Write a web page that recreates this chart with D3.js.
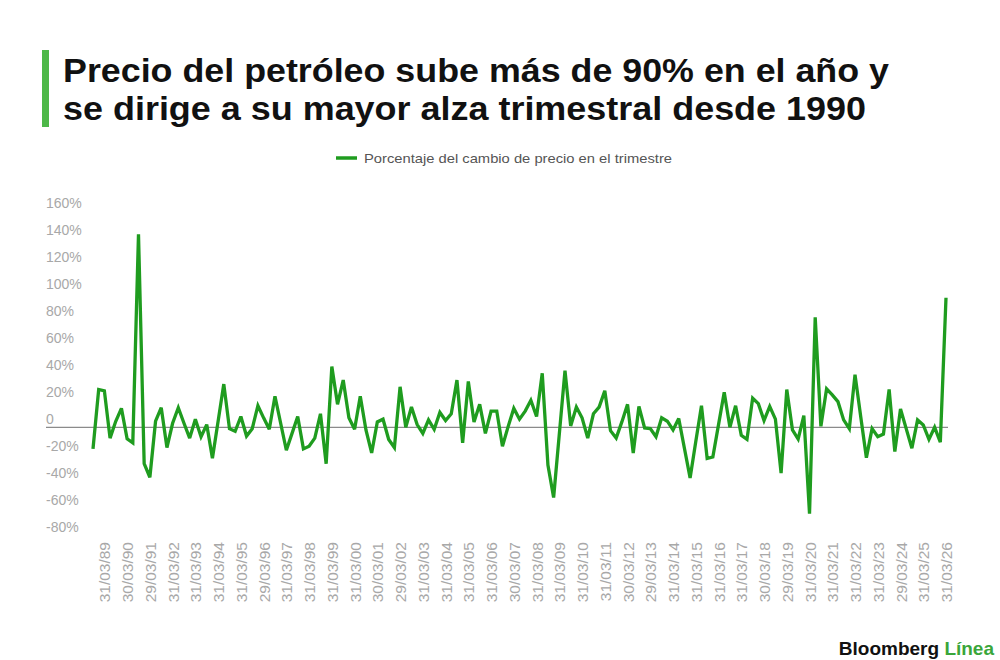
<!DOCTYPE html>
<html>
<head>
<meta charset="utf-8">
<script src="https://cdn.jsdelivr.net/npm/d3@7"></script>
<style>
  body { margin: 0; background: #fff; }
  svg { display: block; }
</style>
</head>
<body>
<script>
// Cambio trimestral del precio del petróleo, % (T3 1988 -> T1 2026)
var values = [
  -16, 28, 27, -8, 4.5, 14, -8.5, -11.5, 143, -27,
  -37, 4.5, 14.5, -15, 3, 14.5, 3, -8, 6, -7,
  2, -23, 4.5, 32, -1, -3, 8, -6.5, -1, 16,
  7, -1.5, 23, 3, -17, -4.5, 8, -16, -14, -8,
  10, -27, 45, 17, 35, 7, -1.5, 23, -2, -19,
  4, 6, -9, -15, 30, 0, 15, 2, -4.5, 5.5,
  -1.5, 11, 5, 10, 35, -11.5, 34, 4, 17, -4.5,
  12, 12, -14, 0.5, 14, 6, 12, 20, 8, 40,
  -28, -52, -5, 42, 1, 15, 7, -8, 10, 15,
  27, -2.5, -8, 4, 17, -19, 15.5, -0.5, -1, -7,
  7, 4.5, -2, 6.5, -15.5, -37.5, -10.5, 16, -23, -22,
  2, 26, 0, 16, -6, -9, 21.5, 17.5, 5, 15.5,
  6, -34, 28, -2, -8.7, 8.7, -64, 81.5, 0.7, 28.5,
  24, 19, 5.5, -1, 39, 8, -22.5, -1, -7, -5,
  28, -18, 13.5, -1, -15.5, 5.5, 1.7, -9, 0, -11,
  96
];

var xLabels = [
  "31/03/89", "30/03/90", "29/03/91", "31/03/92", "31/03/93", "31/03/94",
  "31/03/95", "29/03/96", "31/03/97", "31/03/98", "31/03/99", "31/03/00",
  "30/03/01", "29/03/02", "31/03/03", "31/03/04", "31/03/05", "31/03/06",
  "30/03/07", "31/03/08", "31/03/09", "31/03/10", "31/03/11", "30/03/12",
  "29/03/13", "31/03/14", "31/03/15", "31/03/16", "31/03/17", "30/03/18",
  "29/03/19", "31/03/20", "31/03/21", "31/03/22", "31/03/23", "29/03/24",
  "31/03/25", "31/03/26"
];
var firstLabelIdx = 2;   // first label (31/03/89) sits on the 3rd quarter of data

var yTicks = [-80, -60, -40, -20, 0, 20, 40, 60, 80, 100, 120, 140, 160];

var title = [
  "Precio del petróleo sube más de 90% en el año y",
  "se dirige a su mayor alza trimestral desde 1990"
];
var legendText = "Porcentaje del cambio de precio en el trimestre";

var width = 1000,
    height = 660,
    lineColor = "#1f9c1f",
    accent = "#4db848";

var svg = d3.select("body").append("svg")
    .attr("width", width)
    .attr("height", height);

svg.append("rect").attr("width", width).attr("height", height).attr("fill", "#fff");

// title block
svg.append("rect")
    .attr("x", 42).attr("y", 50)
    .attr("width", 7).attr("height", 77)
    .attr("fill", accent);

var titleText = svg.append("text")
    .style("font-family", "'Liberation Sans', Arial, sans-serif")
    .style("font-weight", "bold")
    .style("font-size", "33px")
    .style("fill", "#111");

titleText.selectAll("tspan")
    .data(title)
  .enter().append("tspan")
    .attr("x", 63)
    .attr("y", function(d, i) { return 82 + i * 38; })
    .attr("textLength", function(d, i) { return i == 0 ? 826 : 803; })
    .attr("lengthAdjust", "spacingAndGlyphs")
    .text(function(d) { return d; });

// legend
svg.append("line")
    .attr("x1", 336).attr("x2", 357)
    .attr("y1", 158).attr("y2", 158)
    .attr("stroke", lineColor)
    .attr("stroke-width", 3.5);

svg.append("text")
    .attr("x", 364).attr("y", 163)
    .attr("textLength", 308)
    .attr("lengthAdjust", "spacingAndGlyphs")
    .style("font-family", "'Liberation Sans', Arial, sans-serif")
    .style("font-size", "13.5px")
    .style("fill", "#555")
    .text(legendText);

// scales
var x = d3.scaleLinear()
    .domain([0, values.length - 1])
    .range([93, 946]);

var y = d3.scaleLinear()
    .domain([-80, 160])
    .range([535.3, 211.3]);

// y axis: labels left aligned, sitting just above their value line
var yAxis = svg.append("g")
    .attr("transform", "translate(46,0)")
    .call(d3.axisRight(y).tickValues(yTicks).tickSize(0)
        .tickFormat(function(d) { return d == 0 ? "0" : d + "%"; }));
yAxis.select(".domain").remove();
yAxis.selectAll("text")
    .attr("x", 0)
    .attr("dy", "-0.25em")
    .style("font-family", "'Liberation Sans', Arial, sans-serif")
    .style("font-size", "14px")
    .style("fill", "#a8a8a8");

// zero line
svg.append("line")
    .attr("x1", 46).attr("x2", 948)
    .attr("y1", y(0)).attr("y2", y(0))
    .attr("stroke", "#6f6f6f")
    .attr("stroke-width", 1);

// x axis (rotated date labels)
var tickIdx = xLabels.map(function(d, i) { return firstLabelIdx + i * 4; });
var xAxis = svg.append("g")
    .attr("transform", "translate(0,542)")
    .call(d3.axisBottom(x).tickValues(tickIdx).tickSize(0)
        .tickFormat(function(d, i) { return xLabels[i]; }));
xAxis.select(".domain").remove();
xAxis.selectAll("text")
    .attr("transform", "rotate(-90)")
    .attr("x", 0)
    .attr("y", 0)
    .attr("dy", "0.36em")
    .style("text-anchor", "end")
    .style("font-family", "'Liberation Sans', Arial, sans-serif")
    .style("font-size", "15.5px")
    .style("fill", "#a8a8a8");

// series line
var line = d3.line()
    .x(function(d, i) { return x(i); })
    .y(function(d) { return y(d); });

svg.append("path")
    .datum(values)
    .attr("d", line)
    .attr("fill", "none")
    .attr("stroke", lineColor)
    .attr("stroke-width", 3.3)
    .attr("stroke-linejoin", "miter")
    .attr("stroke-miterlimit", 3);

// brand
var brand = svg.append("text")
    .attr("x", 994).attr("y", 655)
    .style("text-anchor", "end")
    .style("font-family", "'Liberation Sans', Arial, sans-serif")
    .style("font-weight", "bold")
    .style("font-size", "19px");
brand.append("tspan").style("fill", "#111").text("Bloomberg ");
brand.append("tspan").style("fill", "#3aa63a").text("Línea");
</script>
</body>
</html>
